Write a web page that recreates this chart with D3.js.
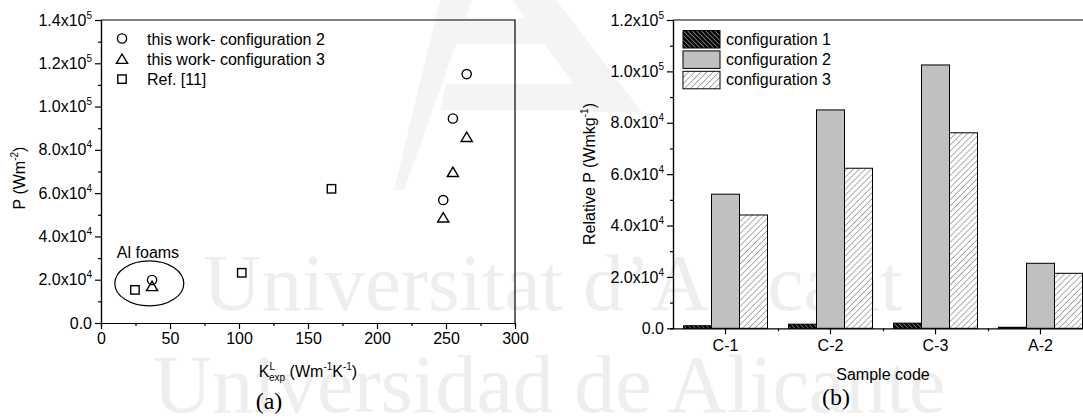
<!DOCTYPE html>
<html>
<head>
<meta charset="utf-8">
<script src="https://cdn.jsdelivr.net/npm/d3@7"></script>
<style>
  html, body { margin: 0; padding: 0; background: #fff; }
  svg { display: block; font-family: "Liberation Sans", Arial, sans-serif; }
</style>
</head>
<body>
<div id="chart"></div>
<script>
// ---- panel (a): scatter data ----
const kConfig2 = [265, 255, 248, 37];
const pConfig2 = [115000, 94500, 56800, 19900];
const kConfig3 = [265, 255, 248, 37];
const pConfig3 = [86000, 69800, 48800, 17100];
const kRef11 = [24.6, 102, 167];
const pRef11 = [15300, 23200, 62000];
const scatterLegend = ["this work- configuration 2", "this work- configuration 3", "Ref. [11]"];
const xTicksA = [0, 50, 100, 150, 200, 250, 300];
const yTicksA = [0, 20000, 40000, 60000, 80000, 100000, 120000, 140000];

// ---- panel (b): bar data ----
const categories = ["C-1", "C-2", "C-3", "A-2"];
const config1 = [1000, 1600, 2000, 400];
const config2 = [52200, 85000, 102500, 25300];
const config3 = [44100, 62300, 76100, 21400];
const barLegend = ["configuration 1", "configuration 2", "configuration 3"];
const yTicksB = [0, 20000, 40000, 60000, 80000, 100000, 120000];

const width = 1083, height = 420;
const svg = d3.select("#chart").append("svg")
  .attr("width", width).attr("height", height);

// hatch patterns
const defs = svg.append("defs");
function hatch(id, bg, fg, w, angle, sw){
  const p = defs.append("pattern").attr("id", id)
    .attr("patternUnits", "userSpaceOnUse")
    .attr("width", w).attr("height", w)
    .attr("patternTransform", "rotate(" + angle + ")");
  p.append("rect").attr("width", w).attr("height", w).attr("fill", bg);
  p.append("line").attr("x1", 0).attr("y1", 0).attr("x2", 0).attr("y2", w)
    .attr("stroke", fg).attr("stroke-width", sw);
}
hatch("h1", "#000", "#fff", 3.2, -45, 0.9);
hatch("h3", "#fff", "#333", 4.3, 45, 0.8);
const fills = ["url(#h1)", "#c0c0c0", "url(#h3)"];

// ---- watermark ----
const wm = svg.append("g").attr("fill", "#f4f4f4");
[
  [[440,0],[472,0],[404,190],[394,190]],
  [[512,0],[556,0],[642,112],[594,112]],
  [[456,18],[560,18],[576,44],[450,44]],
  [[446,84],[620,84],[636,110],[440,110]]
].forEach(pts => wm.append("polygon").attr("points", pts.map(p => p.join(",")).join(" ")));
wm.append("text").attr("x", 203).attr("y", 310)
  .attr("font-family", "'Liberation Serif', 'Times New Roman', serif")
  .attr("font-size", 81).attr("fill", "#eeeeee").text("Universitat d\u2019Alacant");
wm.append("text").attr("x", 153).attr("y", 412)
  .attr("font-family", "'Liberation Serif', 'Times New Roman', serif")
  .attr("font-size", 82).attr("fill", "#eeeeee").text("Universidad de Alicante");

// label with x10^n
function sciLabel(text){
  text.each(function(v){
    const t = d3.select(this).text(null);
    if(v === 0){ t.text("0.0"); return; }
    const e = Math.floor(Math.log10(v));
    const m = (v / Math.pow(10, e)).toFixed(1);
    t.append("tspan").text(m + "x10");
    t.append("tspan").attr("dy", -7).attr("font-size", 10).text(e);
  });
}

function styleAxis(g){
  g.attr("font-family", null).attr("font-size", null);
  g.selectAll(".domain, .tick line").attr("stroke", "#000").attr("stroke-width", 1.2);
  g.selectAll("text").attr("font-size", 16).attr("fill", "#000");
}

// ================= panel (a) =================
const xA = d3.scaleLinear().domain([0, 300]).range([101, 515]);
const yA = d3.scaleLinear().domain([0, 140000]).range([323, 20]);
const gA = svg.append("g");

// minor ticks
gA.append("g").attr("transform", "translate(0,323)")
  .call(d3.axisBottom(xA).tickValues(d3.range(25, 300, 50)).tickSize(3).tickFormat(""))
  .call(styleAxis);
gA.append("g").attr("transform", "translate(101,0)")
  .call(d3.axisLeft(yA).tickValues(d3.range(10000, 140000, 20000)).tickSize(3).tickFormat(""))
  .call(styleAxis);

gA.append("g").attr("transform", "translate(0,323)")
  .call(d3.axisBottom(xA).tickValues(xTicksA).tickSize(6).tickSizeOuter(0).tickPadding(4))
  .call(styleAxis);
gA.append("g").attr("transform", "translate(101,0)")
  .call(d3.axisLeft(yA).tickValues(yTicksA).tickSize(6).tickSizeOuter(0).tickPadding(3))
  .call(styleAxis)
  .selectAll(".tick text").call(sciLabel);

// frame top/right
gA.append("path").attr("d", `M101,20H515V323`).attr("fill", "none")
  .attr("stroke", "#000").attr("stroke-width", 1.2);

// axis titles
const ytA = gA.append("text").attr("transform", "translate(25,178) rotate(-90)")
  .attr("text-anchor", "middle").attr("font-size", 16);
ytA.append("tspan").text("P (Wm");
ytA.append("tspan").attr("dy", -7).attr("font-size", 10).text("-2");
ytA.append("tspan").attr("dy", 7).text(")");

const xtA = gA.append("text").attr("x", 308).attr("y", 377)
  .attr("text-anchor", "middle").attr("font-size", 16);
xtA.append("tspan").text("K");
xtA.append("tspan").attr("dy", -7).attr("font-size", 10).text("L");
xtA.append("tspan").attr("dx", -6).attr("dy", 11).attr("font-size", 10).text("exp");
xtA.append("tspan").attr("dy", -4).text(" (Wm");
xtA.append("tspan").attr("dy", -7).attr("font-size", 10).text("-1");
xtA.append("tspan").attr("dy", 7).text("K");
xtA.append("tspan").attr("dy", -7).attr("font-size", 10).text("-1");
xtA.append("tspan").attr("dy", 7).text(")");

// markers
const mk = { fill: "none", stroke: "#000", sw: 1.4 };
function circleAt(g, x, y){
  g.append("circle").attr("cx", x).attr("cy", y).attr("r", 4.6)
    .attr("fill", mk.fill).attr("stroke", mk.stroke).attr("stroke-width", mk.sw);
}
function triAt(g, x, y){
  g.append("path").attr("d", `M${x},${y-4.8}L${x+5.6},${y+4.6}L${x-5.6},${y+4.6}Z`)
    .attr("fill", mk.fill).attr("stroke", mk.stroke).attr("stroke-width", mk.sw);
}
function sqAt(g, x, y){
  g.append("rect").attr("x", x - 4.2).attr("y", y - 4.2).attr("width", 8.4).attr("height", 8.4)
    .attr("fill", mk.fill).attr("stroke", mk.stroke).attr("stroke-width", mk.sw);
}
const pts = gA.append("g");
kConfig2.forEach((k, i) => circleAt(pts, xA(k), yA(pConfig2[i])));
kConfig3.forEach((k, i) => triAt(pts, xA(k), yA(pConfig3[i])));
kRef11.forEach((k, i) => sqAt(pts, xA(k), yA(pRef11[i])));

// Al foams annotation
gA.append("ellipse").attr("cx", xA(35)).attr("cy", yA(18300))
  .attr("rx", xA(60) - xA(35)).attr("ry", yA(0) - yA(10400))
  .attr("fill", "none").attr("stroke", "#000").attr("stroke-width", 1.2);
gA.append("text").attr("x", xA(11.5)).attr("y", yA(30000)).attr("font-size", 16).text("Al foams");

// legend (a)
const legA = gA.append("g");
[circleAt, triAt, sqAt].forEach((fn, i) => {
  const cy = 38.5 + i * 20.3;
  fn(legA, 122, cy);
  legA.append("text").attr("x", 147).attr("y", cy + 6).attr("font-size", 16).text(scatterLegend[i]);
});

gA.append("text").attr("x", 269).attr("y", 409).attr("text-anchor", "middle")
  .attr("font-family", "'Liberation Serif', 'Times New Roman', serif").attr("font-size", 24).text("(a)");

// ================= panel (b) =================
const xB = d3.scaleBand().domain(categories).range([673, 1093]).paddingInner(0.2).paddingOuter(0.1);
const xSub = d3.scaleBand().domain([0, 1, 2]).range([0, xB.bandwidth()]);
const yB = d3.scaleLinear().domain([0, 120000]).range([328.3, 20]);
const gB = svg.append("g");
const series = [config1, config2, config3];

categories.forEach((c, ci) => {
  series.forEach((s, si) => {
    gB.append("rect")
      .attr("x", xB(c) + xSub(si)).attr("width", xSub.bandwidth())
      .attr("y", yB(s[ci])).attr("height", yB(0) - yB(s[ci]))
      .attr("fill", fills[si]).attr("stroke", "#000").attr("stroke-width", 1);
  });
});

// minor ticks between categories
const bounds = categories.slice(1).map(c => xB(c) - xB.step() * xB.paddingInner() / 2);
gB.append("g").attr("transform", "translate(0,328.3)")
  .call(d3.axisBottom(d3.scaleIdentity()).tickValues(bounds).tickSize(3).tickFormat(""))
  .call(g => g.select(".domain").remove())
  .call(styleAxis);
gB.append("g").attr("transform", "translate(673,0)")
  .call(d3.axisLeft(yB).tickValues(d3.range(10000, 120000, 20000)).tickSize(3).tickFormat(""))
  .call(styleAxis);

gB.append("g").attr("transform", "translate(0,328.3)")
  .call(d3.axisBottom(xB).tickSize(6).tickSizeOuter(0).tickPadding(5))
  .call(styleAxis);
gB.append("g").attr("transform", "translate(673,0)")
  .call(d3.axisLeft(yB).tickValues(yTicksB).tickSize(6).tickSizeOuter(0).tickPadding(3))
  .call(styleAxis)
  .selectAll(".tick text").call(sciLabel);

gB.append("path").attr("d", `M673,20H1093V328.3`).attr("fill", "none")
  .attr("stroke", "#000").attr("stroke-width", 1.2);

const ytB = gB.append("text").attr("transform", "translate(595,174) rotate(-90)")
  .attr("text-anchor", "middle").attr("font-size", 16);
ytB.append("tspan").text("Relative P (Wmkg");
ytB.append("tspan").attr("dy", -7).attr("font-size", 10).text("-1");
ytB.append("tspan").attr("dy", 7).text(")");

gB.append("text").attr("x", 883).attr("y", 380).attr("text-anchor", "middle")
  .attr("font-size", 16).text("Sample code");

// legend (b)
const legB = gB.append("g");
barLegend.forEach((name, i) => {
  const y0 = 30.5 + i * 20.4;
  legB.append("rect").attr("x", 683).attr("y", y0).attr("width", 37).attr("height", 17.5)
    .attr("fill", fills[i]).attr("stroke", "#000").attr("stroke-width", 1);
  legB.append("text").attr("x", 726).attr("y", y0 + 14).attr("font-size", 16).text(name);
});

gB.append("text").attr("x", 836).attr("y", 405).attr("text-anchor", "middle")
  .attr("font-family", "'Liberation Serif', 'Times New Roman', serif").attr("font-size", 24).text("(b)");
</script>
</body>
</html>
